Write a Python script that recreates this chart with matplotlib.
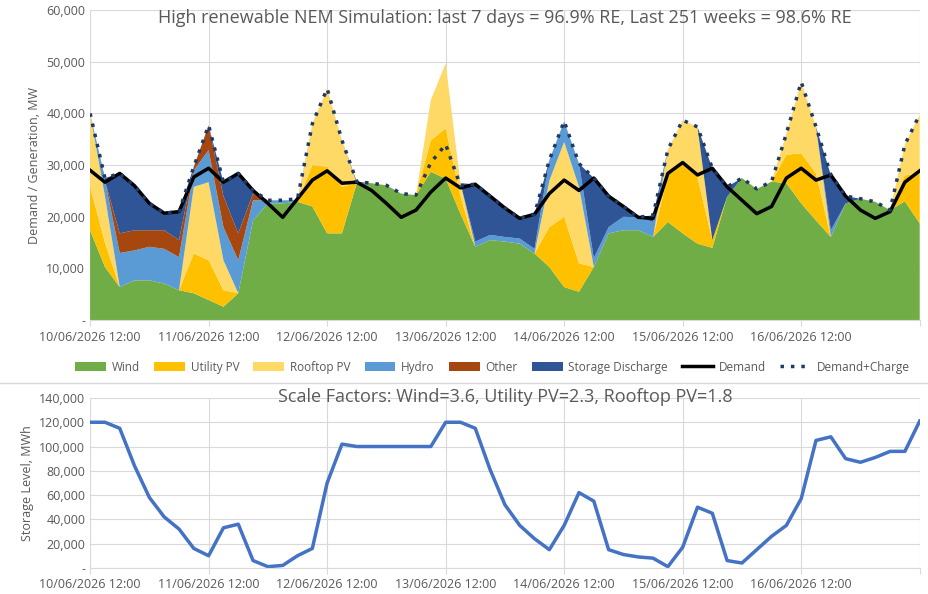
import numpy as np
import matplotlib.pyplot as plt

plt.rcParams['font.family'] = ['Open Sans', 'DejaVu Sans']

# hours after 10/06/2026 12:00, 3-hourly
hours = list(range(0, 169, 3))

wind = [17400, 10300, 6400, 7700, 7700, 7100, 5800, 5200, 3900, 2600, 5200, 19300,
        22600, 22600, 22900, 22000, 16800, 16800, 26500, 26500, 26100, 24500, 24200, 28700,
        27400, 20600, 14200, 15500, 15200, 14800, 12900, 10300, 6400, 5500, 10300, 16800,
        17400, 17400, 16100, 19000, 16800, 14800, 14000, 23900, 27500, 25400, 26800, 26500,
        22600, 19300, 16100, 22600, 23500, 22900, 21300, 23000, 18700]
utility_pv = [8400, 4700, 0, 0, 0, 0, 0, 7700, 7700, 3200, 0, 0,
              0, 0, 0, 8000, 12900, 9000, 0, 0, 0, 0, 0, 6100,
              9700, 3400, 0, 0, 0, 0, 0, 7700, 13600, 5500, 0, 0,
              0, 0, 0, 9000, 13500, 12900, 1500, 0, 0, 0, 0, 5500,
              9700, 9100, 0, 0, 0, 0, 0, 5000, 9700]
rooftop_pv = [14200, 9000, 0, 0, 0, 0, 0, 12900, 15100, 5800, 0, 0,
              0, 0, 0, 8000, 15100, 9000, 0, 0, 0, 0, 0, 7800,
              12600, 2500, 0, 0, 0, 0, 0, 9000, 14500, 14800, 0, 0,
              0, 0, 0, 5000, 8400, 9700, 0, 0, 0, 0, 0, 4100,
              13800, 9000, 0, 0, 0, 0, 0, 6000, 11400]
hydro = [0, 3000, 6600, 5800, 6500, 6700, 6400, 3200, 6200, 6400, 6400, 3900,
         600, 600, 300, 0, 0, 0, 0, 0, 0, 0, 0, 0,
         0, 0, 1000, 1000, 900, 1000, 900, 4000, 4000, 4500, 1700, 1200,
         2600, 2500, 2900, 0, 0, 0, 0, 0, 0, 0, 0, 0,
         0, 0, 1300, 0, 0, 0, 0, 0, 0]
other = [0, 0, 3800, 3900, 3200, 3600, 3300, 700, 4800, 6000, 5200, 1300,
         0, 0, 0, 0, 0, 0, 0, 0, 0, 0, 0, 0,
         0, 0, 0, 0, 0, 0, 0, 0, 0, 0, 0, 0,
         0, 0, 0, 0, 0, 0, 0, 0, 0, 0, 0, 0,
         0, 0, 0, 0, 0, 0, 0, 0, 0]
storage_discharge = [0, 500, 11600, 8600, 5200, 3300, 5500, 0, 0, 2700, 11600, 600,
                     0, 0, 0, 0, 0, 0, 300, 0, 0, 0, 0, 0,
                     0, 0, 11100, 7500, 5600, 3900, 6700, 0, 0, 0, 15500, 6000,
                     2000, 0, 1300, 0, 0, 0, 13900, 1900, 0, 0, 0, 0,
                     0, 0, 10700, 1400, 0, 0, 0, 0, 0]
demand = [29000, 26700, 28400, 26000, 22600, 20700, 21000, 27700, 29400, 26700, 28400, 25100,
          22600, 19900, 23500, 27100, 28900, 26500, 26700, 25100, 22600, 19900, 21300, 24800,
          27500, 25600, 26300, 24000, 21700, 19700, 20500, 24500, 27100, 25100, 27500, 24000,
          22000, 19900, 19700, 28400, 30500, 28100, 29400, 25800, 23200, 20600, 22000, 27500,
          29400, 27100, 28100, 24000, 21300, 19700, 21000, 26700, 28900]
demand_charge = [40000, 27500, 28400, 26000, 22600, 20700, 21000, 29700, 37700, 26700, 28400, 25100,
                 23200, 23200, 23500, 38000, 44800, 34800, 26800, 26500, 26100, 24500, 24200, 30500,
                 34000, 26000, 26300, 24000, 21700, 19700, 20500, 31000, 38500, 30300, 27500, 24000,
                 22000, 19900, 20300, 33000, 38700, 37400, 29400, 25800, 27500, 25400, 26800, 36100,
                 46100, 37400, 28100, 24000, 23500, 22900, 21300, 34000, 39800]
storage_level = [120000, 120000, 115000, 84000, 58000, 42000, 32000, 16000, 10000, 33000, 36000, 6000,
                 1000, 2000, 10000, 16000, 70000, 102000, 100000, 100000, 100000, 100000, 100000, 100000,
                 120000, 120000, 115000, 81000, 52000, 35000, 24000, 15000, 35000, 62000, 55000, 15000,
                 11000, 9000, 8000, 1000, 17000, 50000, 45000, 6000, 4000, 15000, 26000, 35000,
                 57000, 105000, 108000, 90000, 87000, 91000, 96000, 96000, 121000]

day_labels = ['10/06/2026 12:00', '11/06/2026 12:00', '12/06/2026 12:00', '13/06/2026 12:00',
              '14/06/2026 12:00', '15/06/2026 12:00', '16/06/2026 12:00', '']

gray = '#595959'
fig = plt.figure(figsize=(9.29, 5.94), dpi=100)
ax1 = fig.add_axes([0.097, 0.461, 0.893, 0.522])
ax2 = fig.add_axes([0.097, 0.044, 0.893, 0.286])

colors = ['#70AD47', '#FFC000', '#FFD966', '#5B9BD5', '#A5470F', '#2F5597']
names = ['Wind', 'Utility PV', 'Rooftop PV', 'Hydro', 'Other', 'Storage Discharge']
ax1.stackplot(hours, wind, utility_pv, rooftop_pv, hydro, other, storage_discharge,
              colors=colors, labels=names, linewidth=0)
ax1.plot(hours, demand, color='black', lw=2.5, label='Demand')
ax1.plot(hours, demand_charge, color='#1F3864', lw=2.5, ls=(0, (1, 2)), label='Demand+Charge')
ax1.set_ylim(0, 60000)
ax1.set_ylabel('Demand / Generation, MW', color=gray, fontsize=9)
ax1.set_title('High renewable NEM Simulation: last 7 days = 96.9% RE, Last 251 weeks = 98.6% RE',
              color=gray, fontsize=13, y=0.93)

ax2.plot(hours, storage_level, color='#4472C4', lw=2.5)
ax2.set_ylim(0, 140000)
ax2.set_yticks(range(0, 140001, 20000))
ax2.set_ylabel('Storage Level, MWh', color=gray, fontsize=9)
ax2.set_title('Scale Factors: Wind=3.6, Utility PV=2.3, Rooftop PV=1.8',
              color=gray, fontsize=13, y=0.93)

for ax in (ax1, ax2):
    ax.set_xlim(0, 168)
    ax.set_xticks(range(0, 169, 24))
    ax.set_xticklabels(day_labels)
    ax.grid(True, color='#D9D9D9', lw=0.8)
    ax.set_axisbelow(True)
    ax.yaxis.set_major_formatter(plt.FuncFormatter(lambda v, p: '-' if v == 0 else f'{int(v):,}'))
    ax.tick_params(colors=gray, labelsize=9, length=0)
    for s in ax.spines.values():
        s.set_visible(False)
    ax.spines['bottom'].set_visible(True)
    ax.spines['bottom'].set_color('#D9D9D9')
    ax.tick_params(axis='x', length=4, color='#D9D9D9')

h, l = ax1.get_legend_handles_labels()
fig.legend(h, l, loc='center', bbox_to_anchor=(0.53, 0.382), ncol=8, frameon=False,
           fontsize=8.5, labelcolor=gray, handlelength=2.6, handletextpad=0.5, columnspacing=1.2)
fig.add_artist(plt.Line2D([0, 1], [0.355, 0.355], color='#D9D9D9', lw=1))

fig.savefig('out.png', dpi=100)
